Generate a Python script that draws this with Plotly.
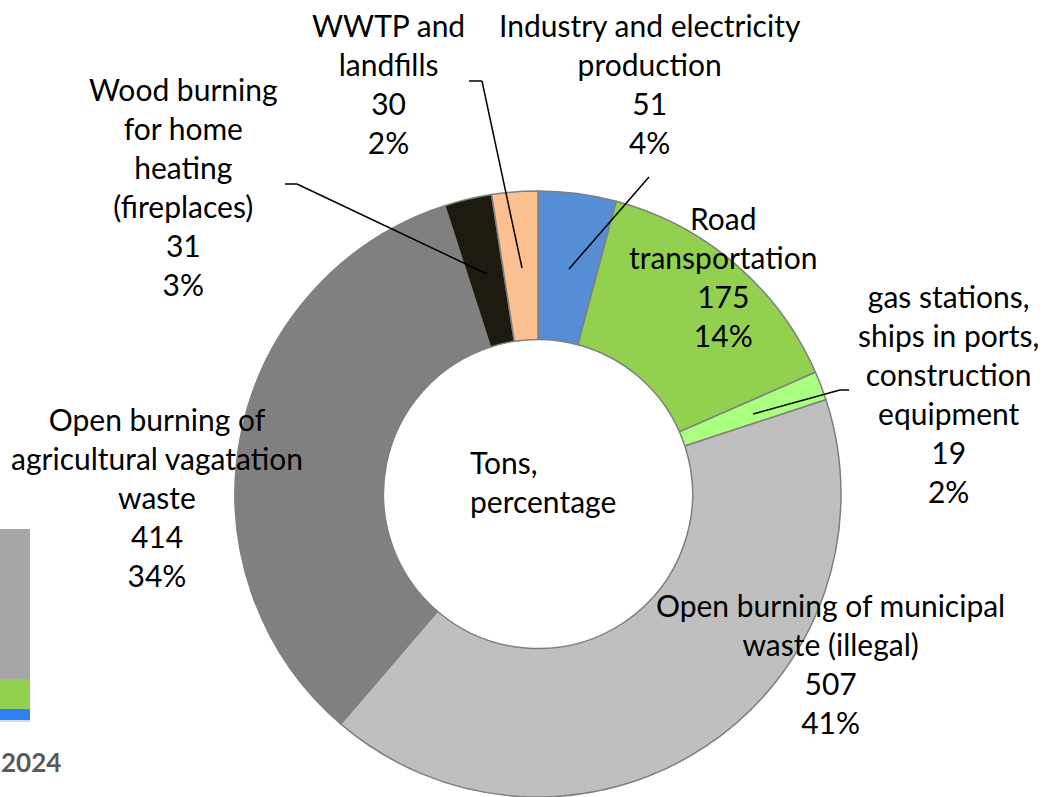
import plotly.graph_objects as go

W, H = 1042, 797

# donut data (tons)
sources = [
    "Industry and electricity production",
    "Road transportation",
    "gas stations, ships in ports, construction equipment",
    "Open burning of municipal waste (illegal)",
    "Open burning of agricultural vagatation waste",
    "Wood burning for home heating (fireplaces)",
    "WWTP and landfills",
]
tons = [51, 175, 19, 507, 414, 31, 30]
percent_labels = ["4%", "14%", "2%", "41%", "34%", "3%", "2%"]
colors = ["#558ED5", "#92D050", "#AAFF80", "#BFBFBF", "#808080", "#1D1B10", "#FAC090"]

# label text split the way it is wrapped in the picture
label_lines = [
    ["Industry and electricity", "production"],
    ["Road", "transportation"],
    ["gas stations,", "ships in ports,", "construction", "equipment"],
    ["Open burning of municipal", "waste (illegal)"],
    ["Open burning of", "agricultural vagatation", "waste"],
    ["Wood burning", "for home", "heating", "(fireplaces)"],
    ["WWTP and", "landfills"],
]
# label centers in pixels
label_pos = [(650, 83), (723, 276), (948, 393), (830, 663), (157, 497), (183, 186), (388, 83)]

# leader lines in pixels
leaders = {
    0: [(569, 269), (649, 177)],
    2: [(753, 414), (840, 390), (849, 390)],
    5: [(487, 274), (297, 184), (285, 184)],
    6: [(522, 268), (482, 81), (469, 81)],
}

# fragment of the neighbouring stacked bar chart (cut off at the left edge)
frag_year = ["2024"]
frag_blue = [11]
frag_green = [30]
frag_gray = [149]

FONT = "Lato"
FS = 30


def px_x(x):
    return x / W


def px_y(y):
    return 1 - y / H


fig = go.Figure()

fig.add_trace(go.Pie(
    labels=sources, values=tons, hole=0.51, sort=False, direction="clockwise",
    rotation=0, textinfo="none", hoverinfo="label+value+percent",
    marker=dict(colors=colors, line=dict(color="#7F7F7F", width=1.5)),
    domain=dict(x=[px_x(235), px_x(841)], y=[0, 606 / H]),
    showlegend=False,
))

for vals, col in [(frag_blue, "#2F7FF5"), (frag_green, "#92D050"), (frag_gray, "#A6A6A6")]:
    fig.add_trace(go.Bar(x=frag_year, y=vals, marker=dict(color=col, line=dict(width=0)),
                         xaxis="x2", yaxis="y2", width=0.6, showlegend=False,
                         hoverinfo="skip"))

annotations = []
for lines, (cx, cy), t, p in zip(label_lines, label_pos, tons, percent_labels):
    annotations.append(dict(
        text="<br>".join(lines + [str(t), p]),
        x=px_x(cx), y=px_y(cy), xref="paper", yref="paper",
        xanchor="center", yanchor="middle", showarrow=False, align="center",
        font=dict(family=FONT, size=FS, color="black"),
    ))

annotations.append(dict(
    text="Tons,<br>percentage", x=px_x(468), y=px_y(481), xref="paper", yref="paper",
    xanchor="left", yanchor="middle", showarrow=False, align="left",
    font=dict(family=FONT, size=FS, color="black"),
))
annotations.append(dict(
    text="<b>2024</b>", x=px_x(63), y=px_y(762), xref="paper", yref="paper",
    xanchor="right", yanchor="middle", showarrow=False,
    font=dict(family=FONT, size=26, color="#595959"),
))

shapes = []
for pts in leaders.values():
    for (x0, y0), (x1, y1) in zip(pts[:-1], pts[1:]):
        shapes.append(dict(type="line", xref="paper", yref="paper",
                           x0=px_x(x0), y0=px_y(y0), x1=px_x(x1), y1=px_y(y1),
                           line=dict(color="black", width=1.5)))

fig.update_layout(
    width=W, height=H, margin=dict(l=0, r=0, t=0, b=0),
    paper_bgcolor="white", plot_bgcolor="white",
    barmode="stack",
    xaxis2=dict(domain=[0, px_x(30)], range=[-0.25, 0.3], visible=True,
                showticklabels=False, showgrid=False, zeroline=False,
                showline=True, linecolor="#D9D9D9", linewidth=2, anchor="y2", ticks=""),
    yaxis2=dict(domain=[1 - 720 / H, 1 - 529 / H], range=[0, sum(frag_blue + frag_green + frag_gray)],
                visible=False, anchor="x2"),
    annotations=annotations, shapes=shapes,
)

fig.write_html("out.html", config={"displayModeBar": False},
               post_script="document.body.style.margin='0';")
